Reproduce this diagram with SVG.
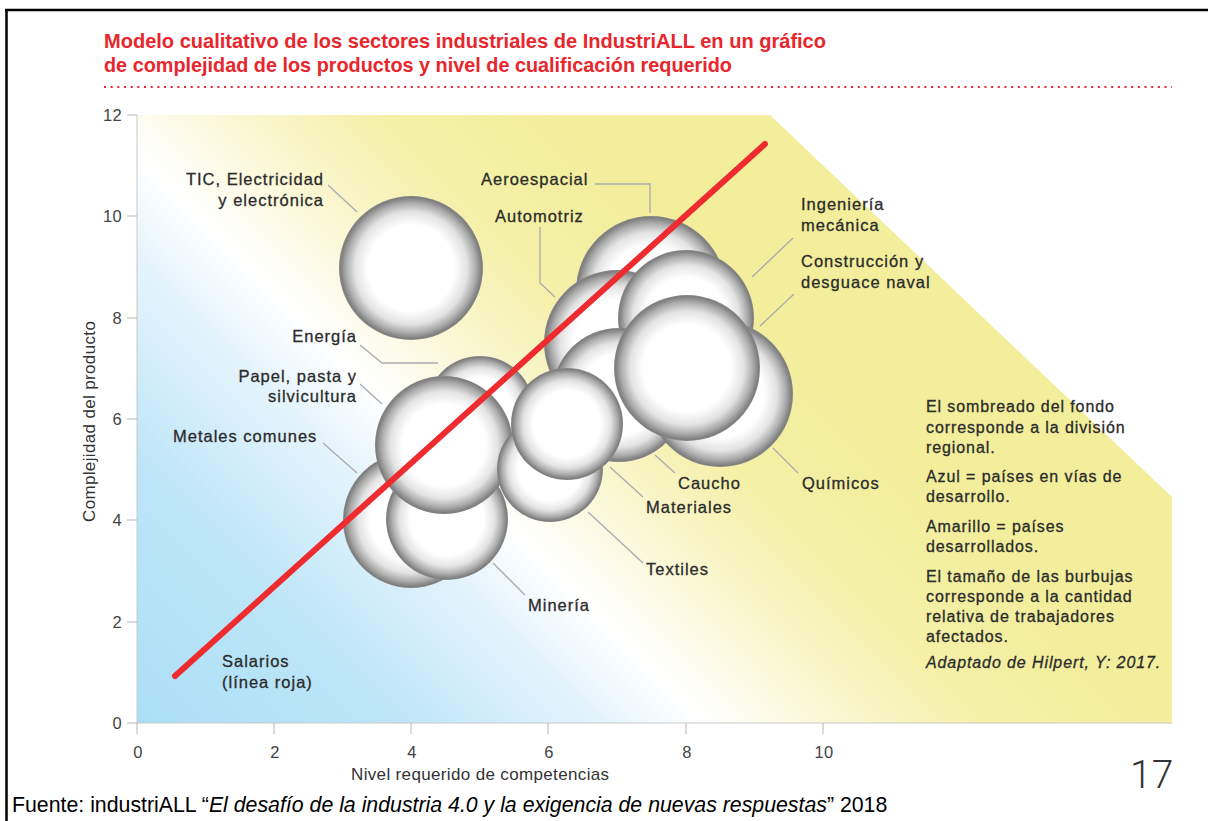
<svg xmlns="http://www.w3.org/2000/svg" width="1208" height="821" viewBox="0 0 1208 821">
<defs>
<linearGradient id="bg" gradientUnits="userSpaceOnUse" x1="137" y1="723" x2="655" y2="205">
<stop offset="0" stop-color="#acdff6"/>
<stop offset="0.25" stop-color="#bde5f8"/>
<stop offset="0.45" stop-color="#e4f4fc"/>
<stop offset="0.55" stop-color="#ffffff"/>
<stop offset="0.66" stop-color="#fbf8d9"/>
<stop offset="0.82" stop-color="#f4f0a7"/>
<stop offset="1" stop-color="#f2ee9c"/>
</linearGradient>
<radialGradient id="bub" cx="0.5" cy="0.5" r="0.5">
<stop offset="0" stop-color="#ffffff"/>
<stop offset="0.6" stop-color="#ffffff"/>
<stop offset="0.78" stop-color="#e3e3e3"/>
<stop offset="0.9" stop-color="#adadad"/>
<stop offset="0.98" stop-color="#7e7e7e"/>
<stop offset="1" stop-color="#8a8a8a"/>
</radialGradient>
<style>
text{font-family:"Liberation Sans",Arial,sans-serif}
.lbl{font-size:16.5px;letter-spacing:1px;fill:#2b2b2b;stroke:#2b2b2b;stroke-width:0.3px}
.note{font-size:16px;letter-spacing:0.9px;fill:#2b2b2b;stroke:#2b2b2b;stroke-width:0.3px}
.ax{font-size:16.5px;letter-spacing:0.3px;fill:#444}
.axt{font-size:17px;letter-spacing:0.35px;fill:#333}
.ttl{font-size:20.5px;font-weight:bold;fill:#e8262c}
.ld{stroke:#a9abae;stroke-width:1.3;fill:none}
.tick{stroke:#b5b5b5;stroke-width:1}
.b{fill:url(#bub)}
</style>
</defs>
<rect width="1208" height="821" fill="#ffffff"/>
<g id="frame">
<line x1="5" y1="10" x2="1208" y2="10" stroke="#000" stroke-width="2.5"/>
<line x1="6.5" y1="9" x2="6.5" y2="821" stroke="#000" stroke-width="2.5"/>
</g>
<g id="title">
<text class="ttl" x="104" y="48" textLength="722" lengthAdjust="spacingAndGlyphs">Modelo cualitativo de los sectores industriales de IndustriALL en un gráfico</text>
<text class="ttl" x="104" y="72" textLength="628" lengthAdjust="spacingAndGlyphs">de complejidad de los productos y nivel de cualificación requerido</text>
<line x1="104" y1="87" x2="1172" y2="87" stroke="#e8262c" stroke-width="2" stroke-dasharray="2 4.67"/>
</g>
<g id="background">
<polygon points="137,115 770,115 1172,497 1172,723 137,723" fill="url(#bg)"/>
</g>
<g id="axes">
<line x1="137" y1="115" x2="137" y2="723" stroke="#c8c8c8" stroke-width="1"/>
<line x1="137" y1="723" x2="1172" y2="723" stroke="#c8c8c8" stroke-width="1"/>
<line class="tick" x1="127" y1="115" x2="137" y2="115"/>
<line class="tick" x1="127" y1="216" x2="137" y2="216"/>
<line class="tick" x1="127" y1="318" x2="137" y2="318"/>
<line class="tick" x1="127" y1="419" x2="137" y2="419"/>
<line class="tick" x1="127" y1="520" x2="137" y2="520"/>
<line class="tick" x1="127" y1="622" x2="137" y2="622"/>
<line class="tick" x1="127" y1="723" x2="137" y2="723"/>
<line class="tick" x1="137" y1="723" x2="137" y2="734"/>
<line class="tick" x1="274" y1="723" x2="274" y2="734"/>
<line class="tick" x1="411" y1="723" x2="411" y2="734"/>
<line class="tick" x1="548" y1="723" x2="548" y2="734"/>
<line class="tick" x1="686" y1="723" x2="686" y2="734"/>
<line class="tick" x1="823" y1="723" x2="823" y2="734"/>
<g text-anchor="end">
<text class="ax" x="122" y="121">12</text>
<text class="ax" x="122" y="222">10</text>
<text class="ax" x="122" y="324">8</text>
<text class="ax" x="122" y="425">6</text>
<text class="ax" x="122" y="526">4</text>
<text class="ax" x="122" y="628">2</text>
<text class="ax" x="122" y="729">0</text>
</g>
<g text-anchor="middle">
<text class="ax" x="138" y="758">0</text>
<text class="ax" x="275" y="758">2</text>
<text class="ax" x="412" y="758">4</text>
<text class="ax" x="549" y="758">6</text>
<text class="ax" x="687" y="758">8</text>
<text class="ax" x="824" y="758">10</text>
</g>
<text class="axt" x="351" y="780">Nivel requerido de competencias</text>
<text class="axt" transform="translate(95,522) rotate(-90)">Complejidad del producto</text>
</g>
<g id="bubbles">
<g id="tic"><circle class="b" cx="411" cy="268" r="72"/></g>
<g id="aeroespacial"><circle class="b" cx="651" cy="291" r="75"/></g>
<g id="automotriz"><circle class="b" cx="617" cy="343" r="73"/></g>
<g id="ingenieria"><circle class="b" cx="686" cy="318" r="68"/></g>
<g id="caucho"><circle class="b" cx="619" cy="395" r="67"/></g>
<g id="quimicos"><circle class="b" cx="720" cy="394" r="73"/></g>
<g id="construccion"><circle class="b" cx="687" cy="368" r="73"/></g>
<g id="energia"><circle class="b" cx="480" cy="410" r="54"/></g>
<g id="metales"><circle class="b" cx="411" cy="520" r="68"/></g>
<g id="mineria"><circle class="b" cx="447" cy="519" r="61"/></g>
<g id="papel"><circle class="b" cx="444" cy="445" r="69"/></g>
<g id="textiles"><circle class="b" cx="550" cy="469" r="53"/></g>
<g id="materiales"><circle class="b" cx="567" cy="424" r="56"/></g>
</g>
<g id="salarios-line">
<line x1="175" y1="676" x2="765" y2="144" stroke="#ee2b2f" stroke-width="6" stroke-linecap="round"/>
</g>
<g id="connectors">
<polyline class="ld" points="328,185 357,212"/>
<polyline class="ld" points="595,184 650,184 650,213"/>
<polyline class="ld" points="540,227 540,283 555,297"/>
<polyline class="ld" points="793,238 752,277"/>
<polyline class="ld" points="794,294 760,326"/>
<polyline class="ld" points="360,345 382,363 438,363"/>
<polyline class="ld" points="360,384 382,404"/>
<polyline class="ld" points="323,443 357,473"/>
<polyline class="ld" points="493,563 525,595"/>
<polyline class="ld" points="655,455 675,473"/>
<polyline class="ld" points="773,448 798,473"/>
<polyline class="ld" points="610,467 643,497"/>
<polyline class="ld" points="588,512 643,563"/>
</g>
<g id="labels">
<g text-anchor="end">
<text class="lbl" x="324" y="185">TIC, Electricidad</text>
<text class="lbl" x="324" y="206">y electrónica</text>
<text class="lbl" x="357" y="342">Energía</text>
<text class="lbl" x="357" y="382">Papel, pasta y</text>
<text class="lbl" x="357" y="402">silvicultura</text>
</g>
<text class="lbl" x="173" y="442">Metales comunes</text>
<text class="lbl" x="528" y="611">Minería</text>
<text class="lbl" x="222" y="667">Salarios</text>
<text class="lbl" x="222" y="688">(línea roja)</text>
<text class="lbl" x="481" y="185">Aeroespacial</text>
<text class="lbl" x="495" y="222">Automotriz</text>
<text class="lbl" x="801" y="210">Ingeniería</text>
<text class="lbl" x="801" y="231">mecánica</text>
<text class="lbl" x="801" y="267">Construcción y</text>
<text class="lbl" x="801" y="288">desguace naval</text>
<text class="lbl" x="678" y="489">Caucho</text>
<text class="lbl" x="802" y="489">Químicos</text>
<text class="lbl" x="646" y="513">Materiales</text>
<text class="lbl" x="646" y="575">Textiles</text>
</g>
<g id="note">
<text class="note" x="926" y="412">El sombreado del fondo</text>
<text class="note" x="926" y="433">corresponde a la división</text>
<text class="note" x="926" y="453">regional.</text>
<text class="note" x="926" y="482">Azul = países en vías de</text>
<text class="note" x="926" y="502">desarrollo.</text>
<text class="note" x="926" y="532">Amarillo = países</text>
<text class="note" x="926" y="552">desarrollados.</text>
<text class="note" x="926" y="582">El tamaño de las burbujas</text>
<text class="note" x="926" y="602">corresponde a la cantidad</text>
<text class="note" x="926" y="622">relativa de trabajadores</text>
<text class="note" x="926" y="642">afectados.</text>
<text class="note" x="926" y="668" font-style="italic">Adaptado de Hilpert, Y: 2017.</text>
</g>
<g id="page">
<text x="1130" y="788" style="font-family:Roboto,'Liberation Sans',sans-serif;font-weight:300;font-size:39px;fill:#333">17</text>
<text x="12" y="812" style="font-size:21.3px;fill:#000">Fuente: industriALL “<tspan font-style="italic">El desafío de la industria 4.0 y la exigencia de nuevas respuestas</tspan>” 2018</text>
</g>
</svg>
